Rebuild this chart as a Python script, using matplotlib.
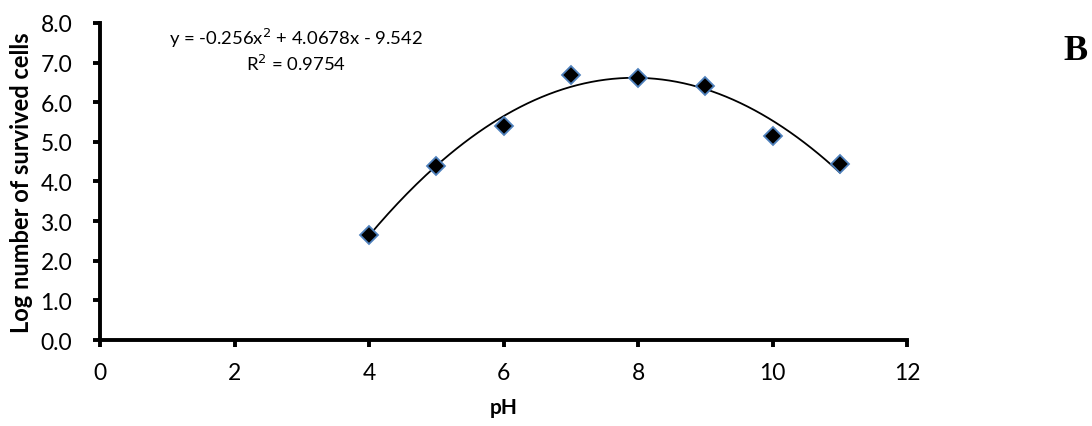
import numpy as np
import matplotlib.pyplot as plt

# measured points
ph = [4, 5, 6, 7, 8, 9, 10, 11]
log_cells = [2.66, 4.39, 5.41, 6.70, 6.62, 6.40, 5.16, 4.43]

# polynomial trendline as printed on the chart
coef = [-0.256, 4.0678, -9.542]
r2 = 0.9754

plt.rcParams['font.family'] = ['Lato', 'DejaVu Sans']

fig = plt.figure(figsize=(10.92, 4.27), dpi=100)
ax = fig.add_axes([0.0916, 0.2014, 0.739, 0.7424])

xs = np.linspace(min(ph), max(ph), 200)
ax.plot(xs, np.polyval(coef, xs), color='black', lw=1.3, zorder=2)
ax.plot(ph, log_cells, linestyle='none', marker='D', markersize=9.5,
        markerfacecolor='black', markeredgecolor='#4F81BD', markeredgewidth=1.3, zorder=3)

ax.set_xlim(0, 12)
ax.set_ylim(0, 8)
ax.set_xticks(range(0, 13, 2))
ax.set_yticks(np.arange(0, 8.1, 1.0))
ax.set_yticklabels([f'{v:.1f}' for v in np.arange(0, 8.1, 1.0)])

for side in ['top', 'right']:
    ax.spines[side].set_visible(False)
for side in ['left', 'bottom']:
    ax.spines[side].set_linewidth(2.8)
ax.tick_params(direction='out', length=5, width=2.8, labelsize=16.5)
ax.tick_params(axis='x', pad=11)
ax.tick_params(axis='y', pad=15)

ax.set_xlabel('pH', fontsize=15, fontweight='bold', labelpad=10)
ax.set_ylabel('Log number of survived cells', fontsize=17, fontweight='bold')
ax.yaxis.set_label_coords(-0.083, 0.5)

eq = f'y = {coef[0]}x$^2$ + {coef[1]}x - {abs(coef[2])}'
fig.text(296 / 1092, 1 - 38 / 427, eq, ha='center', va='center', fontsize=13.3)
fig.text(296 / 1092, 1 - 64 / 427, f'R$^2$ = {r2}', ha='center', va='center', fontsize=13.3)

fig.text(1076 / 1092, 1 - 52 / 427, 'B', ha='center', va='center', fontsize=26,
         fontweight='bold', family='Liberation Serif')

fig.savefig('out.png', dpi=100)
